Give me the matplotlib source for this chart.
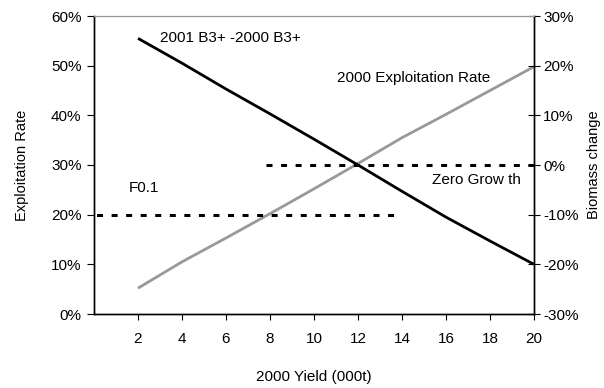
import matplotlib
matplotlib.use("Agg")
import matplotlib.pyplot as plt
from matplotlib.ticker import FuncFormatter

plt.rcParams['font.family'] = ['Liberation Sans', 'DejaVu Sans']

yield_x = [2, 4, 6, 8, 10, 12, 14, 16, 18, 20]
exploitation = [5.2, 10.5, 15.3, 20.2, 25.2, 30.3, 35.5, 40.2, 45.0, 49.8]  # % left axis
biomass_change = [25.5, 20.5, 15.3, 10.3, 5.2, 0.0, -5.3, -10.5, -15.3, -20.0]  # % right axis
f01_x = [0, 14]
f01_y = [20, 20]
zero_x = [7.8, 20]
zero_y = [0, 0]
x_ticks = [2, 4, 6, 8, 10, 12, 14, 16, 18, 20]
left_ticks = [0, 10, 20, 30, 40, 50, 60]
right_ticks = [-30, -20, -10, 0, 10, 20, 30]

fig = plt.figure(figsize=(6.04, 3.88), dpi=100)
ax = fig.add_axes([94/604, 74/388, 440/604, 298/388])
ax2 = ax.twinx()

ax.set_xlim(0, 20)
ax.set_ylim(0, 60)
ax2.set_ylim(-30, 30)

ax.plot(yield_x, exploitation, color='#999999', lw=2.0, solid_capstyle='butt')
ax2.plot(yield_x, biomass_change, color='black', lw=2.0, solid_capstyle='butt')
ax.plot(f01_x, f01_y, color='black', lw=2.16, linestyle=(4.0, (2.0, 2.85)))
ax2.plot(zero_x, zero_y, color='black', lw=2.16, linestyle=(0, (2.0, 2.85)))

ax.set_xticks(x_ticks)
ax.set_yticks(left_ticks)
ax2.set_yticks(right_ticks)
pct = FuncFormatter(lambda v, p: f"{int(round(v))}%")
ax.yaxis.set_major_formatter(pct)
ax2.yaxis.set_major_formatter(pct)

fs = 11
ax.tick_params(axis='x', direction='out', length=4, width=0.8, labelsize=fs, pad=9)
ax.tick_params(axis='y', direction='out', length=5, width=0.8, labelsize=fs, pad=4)
ax2.tick_params(axis='y', direction='inout', length=9, width=0.8, labelsize=fs, pad=2)

for a in (ax, ax2):
    a.spines['top'].set_color('#999999')
    a.spines['top'].set_linewidth(0.8)
    for s in ('left', 'right', 'bottom'):
        a.spines[s].set_linewidth(1.0)
        a.spines[s].set_color('black')

ax.set_xlabel("2000 Yield (000t)", fontsize=fs, va='center')
ax.xaxis.set_label_coords(0.5, (314 - 377) / 298)
ax.set_ylabel("Exploitation Rate", fontsize=10.5, va='center')
ax.yaxis.set_label_coords((22 - 94) / 440, 0.5)
ax2.set_ylabel("Biomass change", fontsize=10.5, va='center')
ax2.yaxis.set_label_coords((594 - 94) / 440, 0.5)

ax.text(3.0, 55.6, "2001 B3+ -2000 B3+", fontsize=fs, va='center', ha='left')
ax.text(11.05, 47.5, "2000 Exploitation Rate", fontsize=fs, va='center', ha='left')
ax.text(1.59, 25.4, "F0.1", fontsize=fs, va='center', ha='left')
ax.text(15.36, 26.9, "Zero Grow th", fontsize=fs, va='center', ha='left')

fig.savefig("out.png", dpi=100)
